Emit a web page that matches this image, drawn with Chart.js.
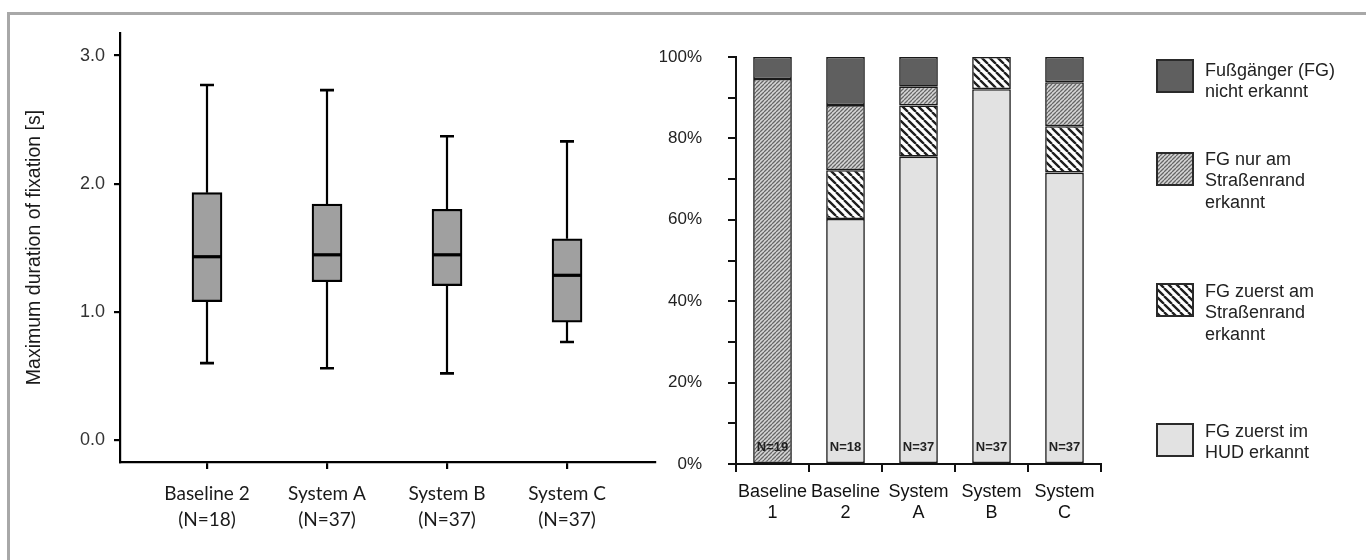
<!DOCTYPE html>
<html><head><meta charset="utf-8">
<script src="https://cdn.jsdelivr.net/npm/chart.js@4"></script>
<style>
html,body{margin:0;padding:0;background:#fff;width:1366px;height:560px;overflow:hidden}
#frame{position:absolute;left:7px;top:12px;right:0;bottom:0;border-top:3px solid #a8a8a8;border-left:3px solid #a8a8a8}
#c1{position:absolute;left:0;top:0}
#c2{position:absolute;left:660px;top:0}
</style></head><body>
<div id="frame"></div>
<canvas id="c1" width="670" height="560"></canvas>
<canvas id="c2" width="706" height="560"></canvas>
<script>
// ---- left chart: box plot data ----
const boxCategories = ["Baseline 2", "System A", "System B", "System C"];
const boxN = ["(N=18)", "(N=37)", "(N=37)", "(N=37)"];
const boxMin = [0.60, 0.56, 0.52, 0.765];
const boxQ1 = [1.08, 1.235, 1.205, 0.92];
const boxMedian = [1.43, 1.445, 1.445, 1.285];
const boxQ3 = [1.93, 1.84, 1.80, 1.57];
const boxMax = [2.77, 2.73, 2.37, 2.33];
const boxYTicks = [0, 1, 2, 3];

// ---- right chart: stacked percentage data ----
const barCategories = [["Baseline", "1"], ["Baseline", "2"], ["System", "A"], ["System", "B"], ["System", "C"]];
const barN = ["N=19", "N=18", "N=37", "N=37", "N=37"];
const hudFirst = [0, 60.2, 75.5, 92.1, 71.6];
const roadFirst = [0, 12.0, 12.6, 7.9, 11.4];
const roadOnly = [94.6, 16.0, 4.6, 0, 10.8];
const notDetected = [5.4, 11.8, 7.3, 0, 6.2];
const legendLabels = [
  ["Fußgänger (FG)", "nicht erkannt"],
  ["FG nur am", "Straßenrand", "erkannt"],
  ["FG zuerst am", "Straßenrand", "erkannt"],
  ["FG zuerst im", "HUD erkannt"]
];

const ARIAL = "'Liberation Sans', Arial, sans-serif";

// ---------------- LEFT: box plot ----------------
const boxPlugin = {
  id: 'boxWhiskers',
  afterDatasetsDraw(chart) {
    const ctx = chart.ctx, xs = chart.scales.x, ys = chart.scales.y;
    ctx.save();
    ctx.strokeStyle = '#000';
    for (let i = 0; i < boxCategories.length; i++) {
      const x = Math.round(xs.getPixelForValue(i)) ;
      const yMin = ys.getPixelForValue(boxMin[i]);
      const yQ1 = ys.getPixelForValue(boxQ1[i]);
      const yMed = ys.getPixelForValue(boxMedian[i]);
      const yQ3 = ys.getPixelForValue(boxQ3[i]);
      const yMax = ys.getPixelForValue(boxMax[i]);
      ctx.lineWidth = 2.2;
      ctx.beginPath();
      ctx.moveTo(x, yQ3); ctx.lineTo(x, yMax);
      ctx.moveTo(x, yQ1); ctx.lineTo(x, yMin);
      ctx.stroke();
      ctx.lineWidth = 2.6;
      ctx.beginPath();
      ctx.moveTo(x - 7, yMax); ctx.lineTo(x + 7, yMax);
      ctx.moveTo(x - 7, yMin); ctx.lineTo(x + 7, yMin);
      ctx.stroke();
      ctx.lineWidth = 3.2;
      ctx.beginPath();
      ctx.moveTo(x - 15, yMed); ctx.lineTo(x + 15, yMed);
      ctx.stroke();
    }
    ctx.restore();
  }
};

new Chart(document.getElementById('c1'), {
  type: 'bar',
  data: {
    datasets: [{
      data: boxCategories.map((c, i) => ({ x: i, y: [boxQ1[i], boxQ3[i]] })),
      backgroundColor: '#a0a0a0',
      borderColor: '#000',
      borderWidth: 2.2,
      borderSkipped: false,
      barThickness: 30
    }]
  },
  options: {
    responsive: false,
    animation: false,
    devicePixelRatio: 1,
    layout: { padding: { left: 0, top: 33, right: 15, bottom: 0 } },
    plugins: { legend: { display: false }, tooltip: { enabled: false } },
    scales: {
      x: {
        type: 'linear',
        offset: false,
        min: -0.725, max: 3.733,
        afterBuildTicks: s => { s.ticks = boxCategories.map((c, i) => ({ value: i })); },
        afterFit: s => { s.height = 98; },
        ticks: {
          callback: (v, i) => [boxCategories[i], boxN[i]],
          font: { family: "Lato, 'Open Sans', sans-serif", size: 19, lineHeight: 1.37 },
          color: '#1a1a1a',
          padding: 12,
          maxRotation: 0,
          autoSkip: false
        },
        grid: { display: true, offset: false, drawOnChartArea: false, drawTicks: true, tickLength: 7, color: '#000', lineWidth: 2.2 },
        border: { display: true, color: '#000', width: 2.2 }
      },
      y: {
        type: 'linear',
        min: -0.172, max: 3.176,
        afterBuildTicks: s => { s.ticks = boxYTicks.map(v => ({ value: v })); },
        afterFit: s => { s.width = 120; },
        ticks: {
          callback: v => v.toFixed(1),
          font: { family: ARIAL, size: 18 },
          color: '#333',
          padding: 9
        },
        grid: { display: true, drawOnChartArea: false, drawTicks: true, tickLength: 6, color: '#000', lineWidth: 2.2 },
        border: { display: true, color: '#000', width: 2.2 },
        title: {
          display: true,
          text: 'Maximum duration of fixation [s]',
          font: { family: ARIAL, size: 19.5 },
          color: '#1a1a1a',
          padding: { top: 23, bottom: 0 }
        }
      }
    }
  },
  plugins: [boxPlugin]
});

// ---------------- RIGHT: stacked bars ----------------
const c2 = document.getElementById('c2');
const ctx2 = c2.getContext('2d');
function hatch(size, bg, fg, lw, dir) {
  const c = document.createElement('canvas');
  c.width = c.height = size;
  const x = c.getContext('2d');
  x.fillStyle = bg; x.fillRect(0, 0, size, size);
  x.strokeStyle = fg; x.lineWidth = lw;
  x.beginPath();
  for (let k = -1; k <= 1; k++) {
    if (dir === '/') { x.moveTo(k * size, size); x.lineTo(k * size + size, 0); }
    else { x.moveTo(k * size, 0); x.lineTo(k * size + size, size); }
  }
  x.stroke();
  return ctx2.createPattern(c, 'repeat');
}
const fillNot = '#5f5f5f';
const fillOnly = hatch(4, '#d6d6d6', '#666', 1.3, '/');
const fillFirstRoad = hatch(8, '#ffffff', '#1e1e1e', 2.3, '\\');
const fillHud = '#e2e2e2';
const legendFills = [fillNot, fillOnly, fillFirstRoad, fillHud];

const segStyle = { borderColor: '#1a1a1a', borderWidth: 1.6, borderSkipped: false, barPercentage: 0.53, categoryPercentage: 1.0 };

const extrasPlugin = {
  id: 'extras',
  afterDatasetsDraw(chart) {
    const ctx = chart.ctx, xs = chart.scales.x, ys = chart.scales.y;
    ctx.save();
    ctx.font = "bold 13px " + ARIAL;
    ctx.fillStyle = '#222';
    ctx.textAlign = 'center';
    ctx.textBaseline = 'middle';
    barN.forEach((t, i) => {
      ctx.fillText(t, xs.getPixelForValue(i), ys.getPixelForValue(0) - 17);
    });
    ctx.restore();
  },
  afterDraw(chart) {
    const ctx = chart.ctx;
    const boxTops = [60, 153, 284, 424];
    const textTops = [71, 160, 292, 432];
    ctx.save();
    legendLabels.forEach((lines, k) => {
      ctx.fillStyle = legendFills[k];
      ctx.fillRect(497, boxTops[k], 36, 32);
      ctx.strokeStyle = '#2a2a2a';
      ctx.lineWidth = 2;
      ctx.strokeRect(497, boxTops[k], 36, 32);
      ctx.fillStyle = '#222';
      ctx.font = "18px " + ARIAL;
      ctx.textAlign = 'left';
      ctx.textBaseline = 'middle';
      lines.forEach((ln, j) => ctx.fillText(ln, 545, textTops[k] + j * 21.5));
    });
    ctx.restore();
  }
};

new Chart(c2, {
  type: 'bar',
  data: {
    labels: barCategories,
    datasets: [
      Object.assign({ label: 'FG zuerst im HUD erkannt', data: hudFirst, backgroundColor: fillHud }, segStyle),
      Object.assign({ label: 'FG zuerst am Straßenrand erkannt', data: roadFirst, backgroundColor: fillFirstRoad }, segStyle),
      Object.assign({ label: 'FG nur am Straßenrand erkannt', data: roadOnly, backgroundColor: fillOnly }, segStyle),
      Object.assign({ label: 'Fußgänger (FG) nicht erkannt', data: notDetected, backgroundColor: fillNot }, segStyle)
    ]
  },
  options: {
    responsive: false,
    animation: false,
    devicePixelRatio: 1,
    layout: { padding: { left: 0, top: 57, right: 265, bottom: 0 } },
    plugins: { legend: { display: false }, tooltip: { enabled: false } },
    scales: {
      x: {
        stacked: true,
        afterFit: s => { s.height = 96; },
        ticks: {
          font: { family: ARIAL, size: 18, lineHeight: 1.2 },
          color: '#111',
          padding: 9,
          maxRotation: 0,
          autoSkip: false
        },
        grid: { display: true, offset: true, drawOnChartArea: false, drawTicks: true, tickLength: 8, color: '#111', lineWidth: 2 },
        border: { display: true, color: '#111', width: 2 }
      },
      y: {
        stacked: true,
        min: 0, max: 100,
        afterFit: s => { s.width = 76; },
        ticks: {
          stepSize: 10,
          callback: v => (v % 20 === 0 ? v + '%' : ''),
          font: { family: ARIAL, size: 17 },
          color: '#222',
          padding: 26
        },
        grid: { display: true, drawOnChartArea: false, drawTicks: true, tickLength: 8, color: '#111', lineWidth: 2 },
        border: { display: true, color: '#111', width: 2 }
      }
    }
  },
  plugins: [extrasPlugin]
});
</script>
</body></html>
